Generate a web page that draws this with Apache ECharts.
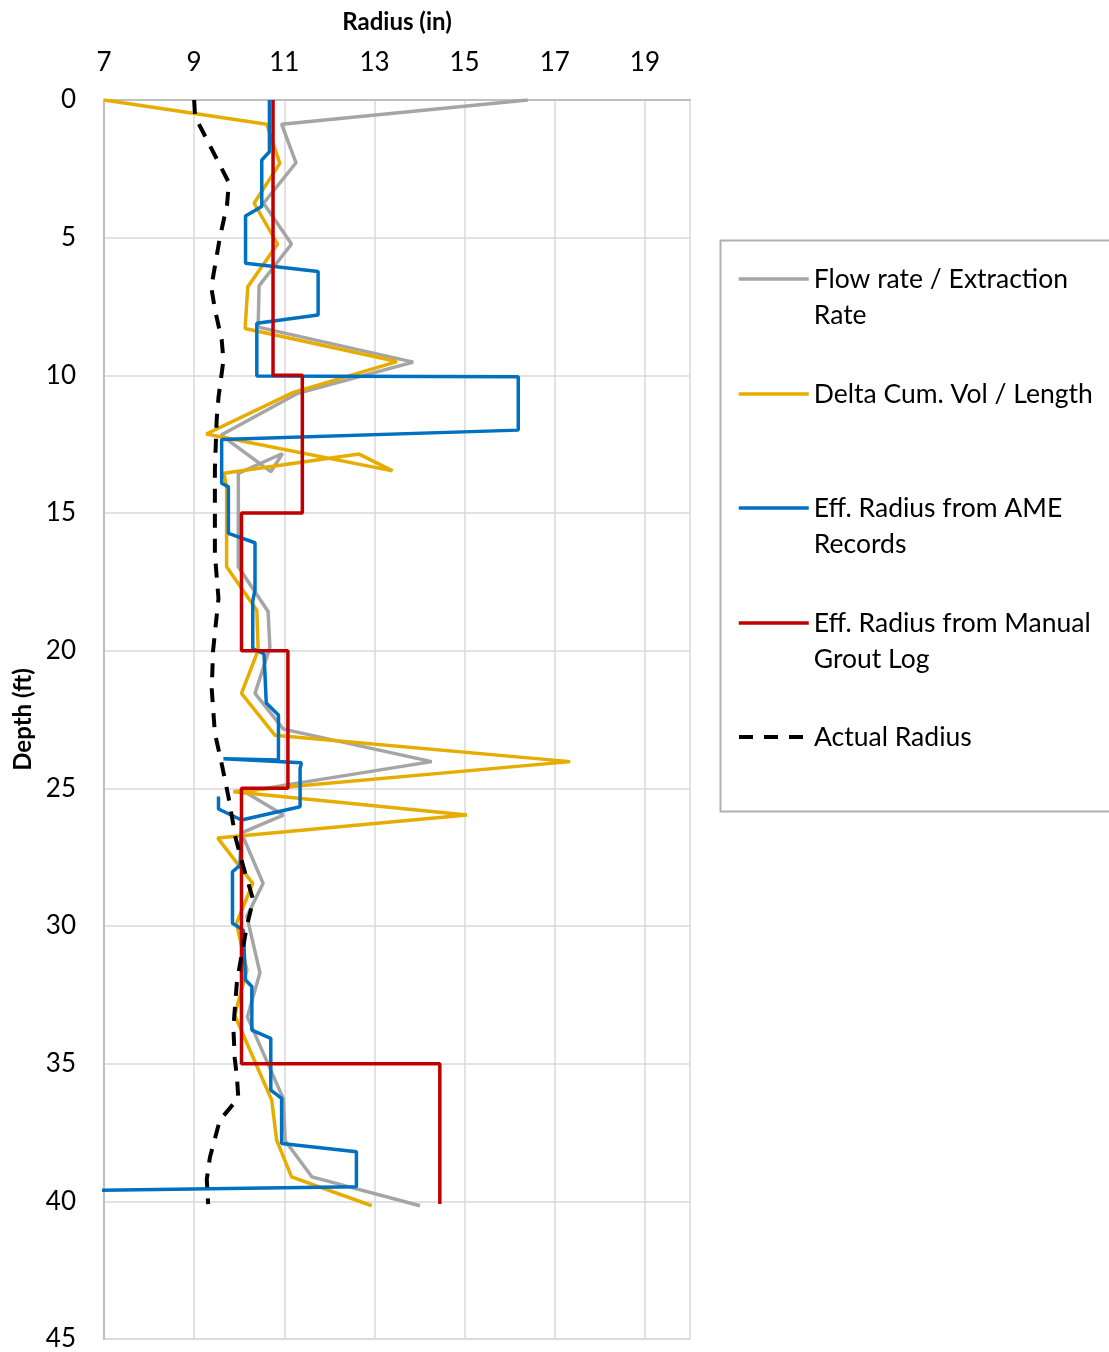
<!DOCTYPE html>
<html>
<head>
<meta charset="utf-8">
<script src="https://cdn.jsdelivr.net/npm/echarts@6/dist/echarts.min.js"></script>
<style>
html,body{margin:0;padding:0;background:#fff;}
#chart{width:1109px;height:1352px;}
</style>
</head>
<body>
<div id="chart"></div>
<script>
// ---- Data (radius in inches, depth in feet) ----
const seriesNames = [
  'Flow rate / Extraction Rate',
  'Delta Cum. Vol / Length',
  'Eff. Radius from AME Records',
  'Eff. Radius from Manual Grout Log',
  'Actual Radius'
];
const legendLines = [
  ['Flow rate / Extraction', 'Rate'],
  ['Delta Cum. Vol / Length'],
  ['Eff. Radius from AME', 'Records'],
  ['Eff. Radius from Manual', 'Grout Log'],
  ['Actual Radius']
];

const flowDepth  = [0, 0.88, 2.28, 3.75, 5.23, 6.75, 8.25, 9.52, 10.65, 12.17, 13.5, 12.84, 13.56, 16.95, 18.58, 19.88, 21.55, 22.85, 24.03, 25.12, 25.97, 26.62, 28.45, 29.65, 31.7, 33.3, 36.28, 37.8, 39.11, 40.16];
const flowRadius = [16.4, 10.94, 11.26, 10.54, 11.16, 10.44, 10.42, 13.86, 11.3, 9.6, 10.7, 10.96, 9.98, 9.98, 10.64, 10.68, 10.35, 10.98, 14.27, 10.12, 10.98, 10.05, 10.53, 10.17, 10.46, 10.18, 10.98, 11.02, 11.61, 14.01];

const volDepth  = [0, 0.88, 2.3, 3.75, 5.23, 6.78, 8.3, 9.5, 10.62, 12.13, 13.47, 12.86, 13.56, 14.05, 16.95, 18.53, 19.98, 21.55, 23.07, 24.03, 25.12, 25.97, 26.8, 28.45, 29.9, 31.6, 33.24, 36.32, 37.78, 39.11, 40.16];
const volRadius = [7.0, 10.61, 10.9, 10.33, 10.85, 10.19, 10.13, 13.5, 11.2, 9.27, 13.4, 12.66, 9.66, 9.72, 9.72, 10.39, 10.42, 10.05, 10.79, 17.34, 9.87, 15.05, 9.52, 10.3, 9.94, 10.17, 9.9, 10.72, 10.83, 11.16, 12.94];

const ameDepth  = [0, 1.88, 2.18, 3.87, 4.21, 5.93, 6.23, 7.81, 8.11, 10.02, 10.05, 11.99, 12.33, 13.92, 14.05, 15.74, 16.08, 17.8, 18.2, 19.92, 20.12, 21.9, 22.34, 23.97, 23.93, 24.07, 24.28, 25.67, 26.15, 25.75, 25.3, 25.75, 26.15, 27.79, 28.03, 29.9, 30.15, 31.96, 32.2, 33.78, 34.08, 35.96, 36.26, 37.9, 38.2, 39.47, 39.76];
const ameRadius = [10.67, 10.67, 10.5, 10.5, 10.14, 10.14, 11.75, 11.75, 10.39, 10.39, 16.19, 16.19, 9.61, 9.61, 9.76, 9.76, 10.35, 10.35, 10.3, 10.3, 10.55, 10.6, 10.87, 10.87, 9.65, 11.38, 11.35, 11.35, 10.05, 9.54, 9.54, 9.54, 10.05, 10.02, 9.85, 9.85, 10.09, 10.14, 10.28, 10.28, 10.7, 10.7, 10.94, 10.94, 12.6, 12.6, 0];

const manualDepth  = [0, 10, 10, 15, 15, 20, 20, 25, 25, 35, 35, 40.1];
const manualRadius = [10.75, 10.75, 11.4, 11.4, 10.05, 10.05, 11.08, 11.08, 10.05, 10.05, 14.45, 14.45];

const actualDepth  = [0, 0.6, 3.0, 3.8, 5.0, 6.8, 7.6, 8.7, 9.45, 10.8, 11.6, 13.4, 16.5, 18.1, 20.0, 21.4, 23.0, 24.1, 25.3, 26.8, 27.9, 29.05, 30.0, 32.0, 33.7, 34.8, 35.5, 36.25, 37.05, 38.4, 39.2, 40.1];
const actualRadius = [9.0, 9.02, 9.77, 9.73, 9.57, 9.38, 9.46, 9.61, 9.65, 9.54, 9.5, 9.46, 9.46, 9.54, 9.42, 9.39, 9.46, 9.61, 9.76, 9.92, 10.1, 10.31, 10.17, 9.95, 9.87, 9.9, 9.95, 9.98, 9.57, 9.35, 9.28, 9.31];

const xTickMin = 7, xTickMax = 20;
const yTickMin = 0, yTickMax = 45, yTickStep = 5;

// ---- Build ----
function pairs(r, d) { return r.map((v, i) => [v, d[i]]); }

const FONT = 'Lato';
const colors = ['#a5a5a5', '#e6ad00', '#0070c0', '#c00000', '#000000'];
const widths = [3.5, 3.5, 3.5, 3.5, 4];
const seriesData = [
  pairs(flowRadius, flowDepth),
  pairs(volRadius, volDepth),
  pairs(ameRadius, ameDepth),
  pairs(manualRadius, manualDepth),
  pairs(actualRadius, actualDepth)
];
function lineStyleOf(i) {
  return i === 4
    ? { color: colors[i], width: widths[i], type: [14, 11] }
    : { color: colors[i], width: widths[i] };
}

const series = seriesNames.map((name, i) => ({
  name: name,
  type: 'line',
  data: seriesData[i],
  showSymbol: false,
  symbol: 'none',
  clip: true,
  z: 2 + i,
  lineStyle: lineStyleOf(i),
  itemStyle: { color: colors[i] },
  emphasis: { disabled: true }
}));

const legendCenters = [279, 394, 508, 623, 737];
const LH = 36;
const legends = seriesNames.map((name, i) => {
  const lines = legendLines[i];
  const twoLine = lines.length > 1;
  // a blank leading line keeps the icon level with the first text line
  const label = twoLine ? ' \n' + lines.join('\n') : lines[0];
  return {
    data: [name],
    left: 737,
    top: legendCenters[i] - (twoLine ? LH * 1.5 : LH / 2),
    orient: 'vertical',
    padding: 0,
    itemWidth: 70,
    itemHeight: 14,
    itemGap: 7,
    selectedMode: false,
    itemStyle: { opacity: 0 },
    lineStyle: lineStyleOf(i),
    formatter: () => label,
    textStyle: { fontFamily: FONT, fontSize: 26.5, color: '#000', lineHeight: LH }
  };
});

const chart = echarts.init(document.getElementById('chart'), null, { renderer: 'canvas' });
chart.setOption({
  animation: false,
  backgroundColor: '#fff',
  grid: {
    left: 104, top: 100, width: 586, height: 1239,
    containLabel: false, outerBoundsMode: 'none',
    show: true, borderColor: '#d9d9d9', borderWidth: 1.5, backgroundColor: 'transparent'
  },
  legend: legends,
  graphic: [{
    type: 'rect', silent: true, z: -1,
    shape: { x: 720.5, y: 240.5, width: 420, height: 571 },
    style: { fill: '#fff', stroke: '#b0b0b0', lineWidth: 2 }
  }],
  xAxis: {
    type: 'value', position: 'top', min: xTickMin, max: xTickMax, interval: 1,
    name: 'Radius (in)', nameLocation: 'middle', nameGap: 66,
    nameTextStyle: { fontFamily: FONT, fontSize: 24, fontWeight: 'bold', color: '#000' },
    axisLine: { show: true, lineStyle: { color: '#bfbfbf', width: 2 } },
    axisTick: { show: false },
    axisLabel: {
      fontFamily: FONT, fontSize: 26, color: '#000', margin: 24,
      formatter: v => (Math.round(v) % 2 === 1 ? String(v) : '')
    },
    splitLine: { show: true, lineStyle: { color: ['#d9d9d9', 'rgba(0,0,0,0)'], width: 1.5 } }
  },
  yAxis: {
    type: 'value', inverse: true, min: yTickMin, max: yTickMax, interval: yTickStep,
    name: 'Depth (ft)', nameLocation: 'middle', nameGap: 66, nameRotate: 90,
    nameTextStyle: { fontFamily: FONT, fontSize: 24, fontWeight: 'bold', color: '#000' },
    axisLine: { show: true, lineStyle: { color: '#bfbfbf', width: 2 } },
    axisTick: { show: false },
    axisLabel: { fontFamily: FONT, fontSize: 26, color: '#000', margin: 28 },
    splitLine: { show: true, lineStyle: { color: '#d9d9d9', width: 1.5 } }
  },
  series: series
});
</script>
</body>
</html>
